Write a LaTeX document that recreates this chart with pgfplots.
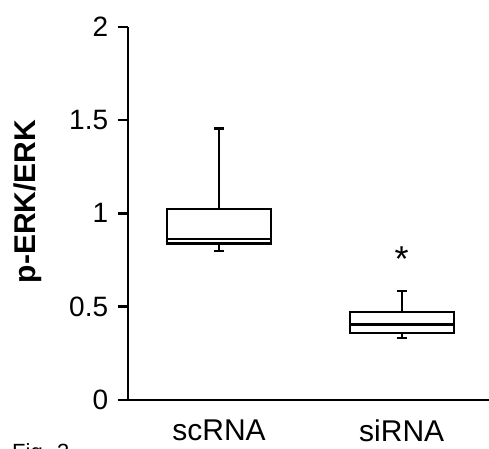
\documentclass[border=0pt]{standalone}
\usepackage{fontspec}
\setmainfont{Liberation Sans}
\usepackage{pgfplots}
\pgfplotsset{compat=1.18}
\usepgfplotslibrary{statistics}

\begin{document}
\begin{tikzpicture}[x=1pt,y=1pt]
\useasboundingbox (0,0) rectangle (489,448);
\begin{axis}[
  at={(127.7pt,48pt)}, anchor=south west,
  scale only axis, width=361.3pt, height=373.3pt,
  xmin=0.5, xmax=2.478, ymin=0, ymax=2,
  axis x line*=bottom, axis y line*=left,
  axis line style={line width=2.4pt},
  xtick={1,2}, xticklabels={scRNA,siRNA},
  ytick={0,0.5,1,1.5,2},
  tick align=outside,
  major tick length=10pt,
  tick style={line width=2.4pt, black},
  x tick style={draw=none},
  /pgf/number format/assume math mode=true,
  ticklabel style={font=\fontsize{28}{30}\selectfont},
  yticklabel style={xshift=-6pt},
  xticklabel style={font=\fontsize{30}{32}\selectfont, yshift=-6pt},
  ylabel={p-ERK/ERK},
  ylabel style={font=\bfseries\fontsize{30}{32}\selectfont,
    at={(axis description cs:-0.276,0.532)}, anchor=center},
  boxplot/draw direction=y,
  clip=false,
]
\addplot[black, line width=2.2pt, fill=white,
  boxplot prepared={draw position=1, lower whisker=0.80, lower quartile=0.839,
    median=0.864, upper quartile=1.023, upper whisker=1.455,
    box extend=0.57, whisker extend=0.055}] coordinates {};
\addplot[black, line width=2.2pt, fill=white,
  boxplot prepared={draw position=2, lower whisker=0.332, lower quartile=0.36,
    median=0.405, upper quartile=0.47, upper whisker=0.584,
    box extend=0.57, whisker extend=0.055}] coordinates {};
\node[font=\fontsize{36}{38}\selectfont, inner sep=0pt] at (axis cs:2,0.755) {*};
\end{axis}
\node[anchor=north west, inner sep=0pt, font=\fontsize{22}{24}\selectfont] at (12,5) {Fig. 3};
\end{tikzpicture}
\end{document}
